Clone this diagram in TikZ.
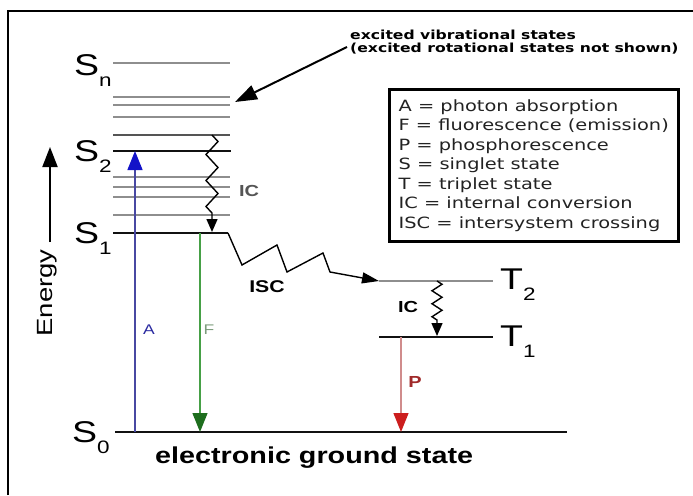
\documentclass[tikz,border=0pt]{standalone}
\usepackage{fontspec}
\usepackage{xcolor}
\usetikzlibrary{arrows.meta,decorations.pathmorphing}
\newfontfamily\lblfont[FakeStretch=1.25]{Liberation Sans}
\newfontfamily\keyfont[FakeStretch=1.25]{DejaVu Sans}
\definecolor{cVib}{HTML}{8E8E8E}
\definecolor{cVibD}{HTML}{555555}
\definecolor{cLvl}{HTML}{111111}
\definecolor{cAbs}{HTML}{4848A2}
\definecolor{cAbsH}{HTML}{1212C8}
\definecolor{cAbsT}{HTML}{2A2AA0}
\definecolor{cFlu}{HTML}{46A046}
\definecolor{cFluH}{HTML}{1E6E1E}
\definecolor{cFluT}{HTML}{7C9C7C}
\definecolor{cPho}{HTML}{D08C8C}
\definecolor{cPhoH}{HTML}{CC1E1E}
\definecolor{cPhoT}{HTML}{A02A2A}
\definecolor{cKey}{HTML}{222222}
\definecolor{cICs}{HTML}{555555}
\newcommand\lvsub[1]{\raisebox{-11pt}{\fontsize{18}{18}\selectfont #1}}
\tikzset{
  frame/.style={draw=black,line width=2pt},
  vib/.style={draw=cVib,line width=2pt},
  lvl/.style={draw=cLvl,line width=2pt},
  stlbl/.style={font=\lblfont\fontsize{30}{30}\selectfont,inner sep=0pt,anchor=base west},
  absarr/.style={draw=cAbs,line width=1.3pt,-{Triangle[length=19pt,width=15pt,color=cAbsH]}},
  fluarr/.style={draw=cFlu,line width=1.3pt,-{Triangle[length=19pt,width=15pt,color=cFluH]}},
  phoarr/.style={draw=cPho,line width=1.3pt,-{Triangle[length=19pt,width=15pt,color=cPhoH]}},
  icarr/.style={draw=black,line width=1.4pt,-{Triangle[length=13pt,width=11pt]},decorate,
    decoration={zigzag,segment length=#1,amplitude=6pt,post length=16pt}},
  iscarr/.style={draw=black,line width=1.4pt,-{Triangle[length=17pt,width=11pt]}},
  axisarr/.style={draw=black,line width=2pt,-{Triangle[length=20pt,width=15pt]}},
  notearr/.style={draw=black,line width=2pt,-{Triangle[length=22pt,width=15pt]}},
  proclbl/.style={font=\lblfont\fontsize{14}{14}\selectfont,inner sep=0pt},
  iclbl/.style={font=\lblfont\bfseries\fontsize{16}{16}\selectfont,inner sep=0pt},
  gslbl/.style={font=\lblfont\bfseries\fontsize{23}{23}\selectfont,inner sep=0pt,anchor=base west},
  note/.style={font=\keyfont\bfseries\fontsize{12.5}{13}\selectfont,align=left,inner sep=0pt,anchor=north west},
  keybox/.style={draw=black,line width=2.5pt,anchor=north west,minimum width=289pt,minimum height=152pt,
    align=left,inner xsep=9pt,font=\keyfont\fontsize{15.5}{19.5}\selectfont,text=cKey},
}
\begin{document}
\begin{tikzpicture}[x=1pt,y=-1pt]
  \useasboundingbox (0,0) rectangle (693,495);
  \draw[frame] (8,495) -- (8,11) -- (693,11);

  % singlet levels
  \foreach \y in {63,97,105,117,177,187,197,215}
    \draw[vib] (113,\y) -- (230,\y);
  \draw[vib,draw=cVibD] (113,135) -- (230,135);
  \draw[lvl] (113,151) -- (231,151);
  \coordinate (S1r) at (228,233);
  \draw[lvl] (113,233) -- (S1r);
  \draw[lvl] (115,432) -- (567,432);

  % triplet levels
  \coordinate (T2l) at (379,281);
  \draw[vib] (T2l) -- (493,281);
  \draw[lvl] (379,337) -- (493,337);

  \node[stlbl] (lSn) at (74,75) {S\lvsub{n}};
  \node[stlbl] (lS2) at (74,161) {S\lvsub{2}};
  \node[stlbl] (lS1) at (74,243) {S\lvsub{1}};
  \node[stlbl] (lS0) at (72,442) {S\lvsub{0}};
  \node[stlbl] (lT2) at (500,289) {T\lvsub{2}};
  \node[stlbl] (lT1) at (500,346) {T\lvsub{1}};

  \coordinate (A0) at (135,432);
  \coordinate (A2) at (135,151);
  \coordinate (F1) at (200,233);
  \coordinate (F0) at (200,432);
  \coordinate (P1) at (401,337);
  \coordinate (P0) at (401,432);
  \draw[absarr] (A0) -- (A2);
  \draw[fluarr] (F1) -- (F0);
  \draw[phoarr] (P1) -- (P0);
  \node[proclbl,text=cAbsT] (lA) at (149,330) {A};
  \node[proclbl,text=cFluT] (lF) at (209,330) {F};
  \node[proclbl,text=cPhoT,font=\lblfont\bfseries\fontsize{16}{16}\selectfont] (lP) at (415,382) {P};

  \coordinate (ICs0) at (212,135);
  \coordinate (ICs1) at (212,232);
  \coordinate (ICt0) at (437,281);
  \coordinate (ICt1) at (437,336);
  \draw[icarr=26pt] (ICs0) -- (ICs1);
  \draw[icarr=13pt,decoration={amplitude=5pt}] (ICt0) -- (ICt1);
  \node[iclbl,text=cICs] (lICs) at (249,191) {IC};
  \node[iclbl] (lICt) at (408,307) {IC};

  \draw[iscarr] (S1r) -- (242,265) -- (277,245) -- (287,272) -- (323,253) -- (330,272) -- (T2l);
  \node[iclbl,font=\lblfont\bfseries\fontsize{17}{17}\selectfont] (lISC) at (267,287) {ISC};

  \node[gslbl] (gs) at (155,463) {electronic ground state};

  \coordinate (eB) at (50,242);
  \coordinate (eT) at (50,147);
  \draw[axisarr] (eB) -- (eT);
  \node[font=\lblfont\fontsize{22}{22}\selectfont,rotate=90,inner sep=0pt] (en) at (47,293) {Energy};

  \node[note] (ann) at (350,30) {excited vibrational states\\(excited rotational states not shown)};
  \coordinate (annT) at (347,47);
  \coordinate (annH) at (235,102);
  \draw[notearr] (annT) -- (annH);

  \node[keybox] (key) at (388,88) {A = photon absorption\\F = fluorescence (emission)\\P = phosphorescence\\S = singlet state\\T = triplet state\\IC = internal conversion\\ISC = intersystem crossing};
\end{tikzpicture}
\end{document}
